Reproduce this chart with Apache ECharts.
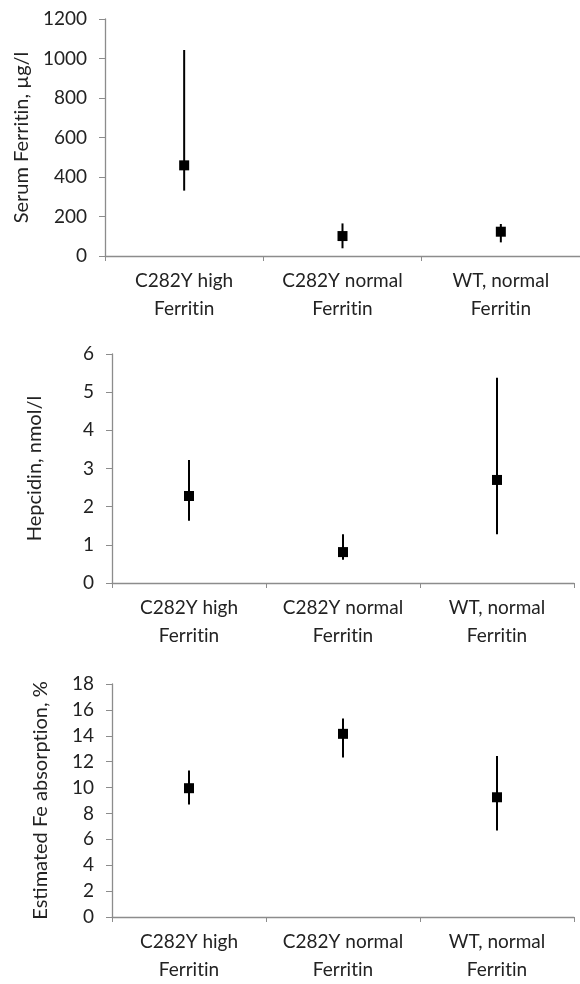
<!DOCTYPE html>
<html>
<head>
<meta charset="utf-8">
<script src="https://cdn.jsdelivr.net/npm/echarts@6/dist/echarts.min.js"></script>
<style>
html,body{margin:0;padding:0;background:#fff;}
#chartsDiv{width:580px;height:984px;}
</style>
</head>
<body>
<div id="chartsDiv"></div>
<script>
// categories shared by the three panels (\u200C keeps "ti" from joining into a ligature)
var categories = ['C282Y high\nFerrit\u200Cin', 'C282Y normal\nFerrit\u200Cin', 'WT, normal\nFerrit\u200Cin'];

// serum ferritin, µg/l
var ferritinMid = [459, 101, 123];
var ferritinLow = [331, 39, 69];
var ferritinHigh = [1043, 165, 162];

// hepcidin, nmol/l
var hepcidinMid = [2.28, 0.81, 2.70];
var hepcidinLow = [1.63, 0.61, 1.28];
var hepcidinHigh = [3.22, 1.28, 5.38];

// estimated Fe absorption, %
var absorbMid = [9.95, 14.15, 9.25];
var absorbLow = [8.70, 12.32, 6.69];
var absorbHigh = [11.31, 15.34, 12.44];

var yNames = ['Serum Ferrit\u200Cin, µg/l', 'Hepcidin, nmol/l', 'Estimated Fe absorpt\u200Cion, %'];
var yMax = [1200, 6, 18];
var yStep = [200, 1, 2];

var font = 'Lato';
var axisGray = '#8c8c8c';
var textCol = '#222';

var chart = echarts.init(document.getElementById('chartsDiv'));

function rangeData(low, high){
	var out = [];
	for (var i = 0; i < low.length; i++) out.push([i, low[i], high[i]]);
	return out;
}

function errBar(params, api){
	var a = api.coord([api.value(0), api.value(1)]);
	var b = api.coord([api.value(0), api.value(2)]);
	return {
		type: 'line',
		shape: {x1: a[0], y1: a[1], x2: b[0], y2: b[1]},
		style: {stroke: '#000', lineWidth: 2}
	};
}

var grids = [
	{left: 105, top: 19, width: 478, height: 237},
	{left: 112, top: 354, width: 462, height: 229},
	{left: 112, top: 684, width: 462, height: 239}
];
var nameGaps = [73, 67, 61];

var xAxes = [], yAxes = [], series = [];
var mids = [ferritinMid, hepcidinMid, absorbMid];
var lows = [ferritinLow, hepcidinLow, absorbLow];
var highs = [ferritinHigh, hepcidinHigh, absorbHigh];

for (var k = 0; k < 3; k++) {
	xAxes.push({
		type: 'category', gridIndex: k, data: categories, boundaryGap: true,
		axisLine: {lineStyle: {color: axisGray, width: 1.3}},
		axisTick: {show: true, length: 5, lineStyle: {color: axisGray}},
		axisLabel: {color: textCol, fontFamily: font, fontSize: 19, lineHeight: 28, margin: 11, interval: 0}
	});
	yAxes.push({
		type: 'value', gridIndex: k, min: 0, max: yMax[k], interval: yStep[k],
		name: yNames[k], nameLocation: 'middle', nameRotate: 90, nameGap: nameGaps[k],
		nameTextStyle: {color: textCol, fontFamily: font, fontSize: 20},
		axisLine: {show: true, lineStyle: {color: axisGray, width: 1.3}},
		axisTick: {show: true, length: 6, lineStyle: {color: axisGray}},
		splitLine: {show: false},
		axisLabel: {color: textCol, fontFamily: font, fontSize: 19, margin: 18,
			formatter: function(v){ return String(v); }}
	});
	series.push({
		type: 'custom', xAxisIndex: k, yAxisIndex: k,
		renderItem: errBar, data: rangeData(lows[k], highs[k]), z: 2
	});
	series.push({
		type: 'scatter', xAxisIndex: k, yAxisIndex: k,
		symbol: 'rect', symbolSize: 10, itemStyle: {color: '#000', opacity: 1},
		data: mids[k], z: 3
	});
}

chart.setOption({
	animation: false,
	backgroundColor: '#fff',
	grid: grids,
	xAxis: xAxes,
	yAxis: yAxes,
	series: series
});
</script>
</body>
</html>
